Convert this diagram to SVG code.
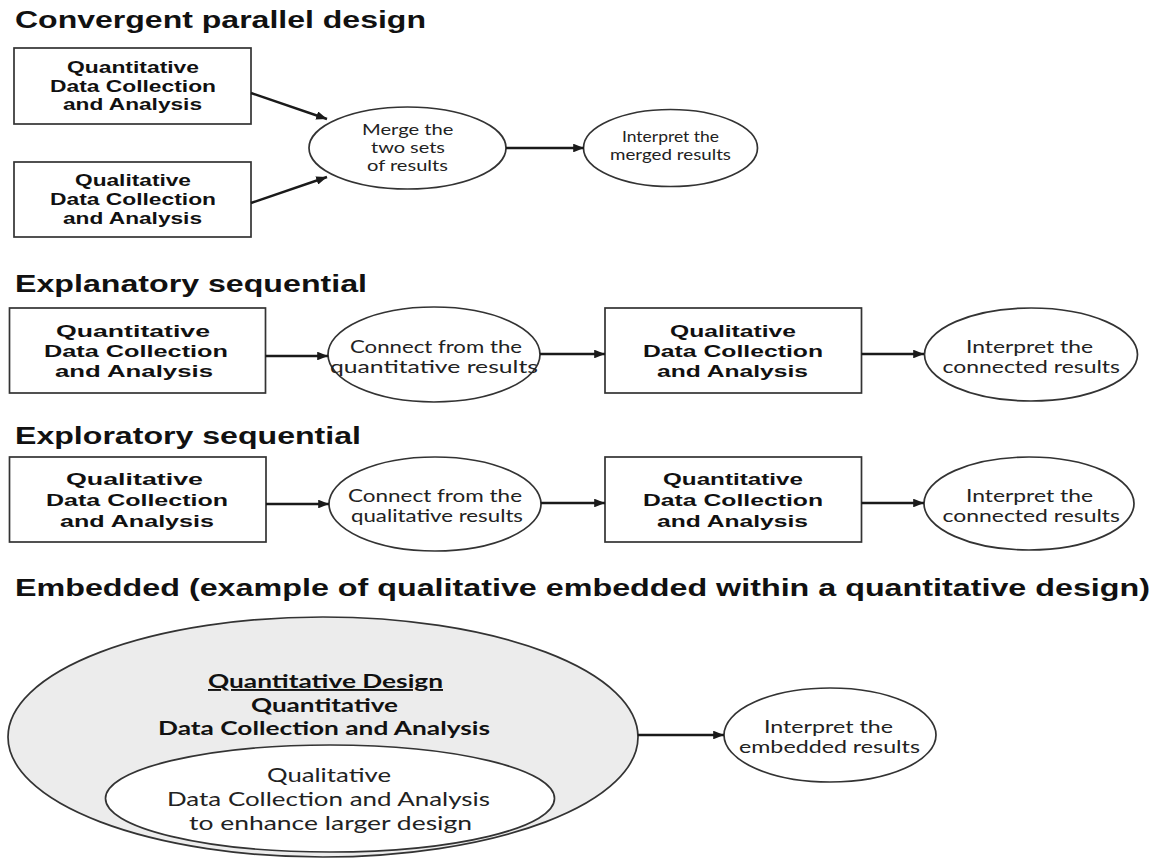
<svg xmlns="http://www.w3.org/2000/svg" width="1157" height="858" viewBox="0 0 1157 858">
<defs>
<style>
.title{font-family:"Liberation Sans",Arial,sans-serif;font-weight:bold;font-size:23px;fill:#111}
.bx{font-family:"Liberation Sans",Arial,sans-serif;font-weight:bold;font-size:16px;fill:#111}
.bx2{font-family:"Liberation Sans",Arial,sans-serif;font-weight:bold;font-size:17px;fill:#111}
.el{font-family:Lato,"Open Sans",sans-serif;font-size:15px;fill:#222}
.el2{font-family:Lato,"Open Sans",sans-serif;font-size:16.5px;fill:#222}
.eb{font-family:Lato,"Open Sans",sans-serif;font-weight:bold;font-size:19px;fill:#111}
.er{font-family:Lato,"Open Sans",sans-serif;font-size:19px;fill:#222}
.box{fill:#fff;stroke:#333;stroke-width:1.7}
.ell{fill:#fff;stroke:#333;stroke-width:1.7}
.conn line{stroke:#1a1a1a;stroke-width:2.4;marker-end:url(#ah)}
</style>
<marker id="ah" viewBox="0 0 10 8" refX="10" refY="4" markerWidth="4.5" markerHeight="3.6" orient="auto" markerUnits="strokeWidth">
<path d="M0,0 L10,4 L0,8 z" fill="#1a1a1a"/>
</marker>
</defs>
<rect width="1157" height="858" fill="#fff"/>

<g id="titles">
<text class="title" x="15" y="28" textLength="411" lengthAdjust="spacingAndGlyphs">Convergent parallel design</text>
<text class="title" x="15" y="292" textLength="352" lengthAdjust="spacingAndGlyphs">Explanatory sequential</text>
<text class="title" x="15" y="444" textLength="346" lengthAdjust="spacingAndGlyphs">Exploratory sequential</text>
<text class="title" x="15" y="596" textLength="1135" lengthAdjust="spacingAndGlyphs">Embedded (example of qualitative embedded within a quantitative design)</text>
</g>

<!-- Convergent parallel -->
<g id="cp-quant">
<rect class="box" x="14" y="48" width="237" height="76"/>
<text class="bx" x="67" y="72.5" textLength="132" lengthAdjust="spacingAndGlyphs">Quantitative</text>
<text class="bx" x="50" y="91.5" textLength="166" lengthAdjust="spacingAndGlyphs">Data Collection</text>
<text class="bx" x="63" y="110" textLength="139" lengthAdjust="spacingAndGlyphs">and Analysis</text>
</g>
<g id="cp-qual">
<rect class="box" x="14" y="162" width="237" height="75"/>
<text class="bx" x="75" y="186" textLength="116" lengthAdjust="spacingAndGlyphs">Qualitative</text>
<text class="bx" x="50" y="205" textLength="166" lengthAdjust="spacingAndGlyphs">Data Collection</text>
<text class="bx" x="63" y="224" textLength="139" lengthAdjust="spacingAndGlyphs">and Analysis</text>
</g>
<g id="cp-merge">
<ellipse class="ell" cx="407.5" cy="148" rx="98.5" ry="41"/>
<text class="el" x="362" y="134.5" textLength="91.5" lengthAdjust="spacingAndGlyphs">Merge the</text>
<text class="el" x="371" y="152.5" textLength="74" lengthAdjust="spacingAndGlyphs">two sets</text>
<text class="el" x="367" y="170.5" textLength="81" lengthAdjust="spacingAndGlyphs">of results</text>
</g>
<g id="cp-interpret">
<ellipse class="ell" cx="670.5" cy="148" rx="87" ry="38.5"/>
<text class="el" x="622" y="141.5" textLength="97" lengthAdjust="spacingAndGlyphs">Interpret the</text>
<text class="el" x="610" y="160" textLength="121" lengthAdjust="spacingAndGlyphs">merged results</text>
</g>

<!-- Explanatory sequential -->
<g id="ex-quant">
<rect class="box" x="9.5" y="308" width="256" height="85"/>
<text class="bx2" x="56" y="336.5" textLength="154" lengthAdjust="spacingAndGlyphs">Quantitative</text>
<text class="bx2" x="44" y="357.3" textLength="184" lengthAdjust="spacingAndGlyphs">Data Collection</text>
<text class="bx2" x="55" y="377.3" textLength="158" lengthAdjust="spacingAndGlyphs">and Analysis</text>
</g>
<g id="ex-connect">
<ellipse class="ell" cx="434" cy="354.5" rx="106" ry="47.5"/>
<text class="el2" x="350" y="352.7" textLength="172" lengthAdjust="spacingAndGlyphs">Connect from the</text>
<text class="el2" x="330" y="372.7" textLength="208" lengthAdjust="spacingAndGlyphs">quantitative results</text>
</g>
<g id="ex-qual">
<rect class="box" x="605" y="308" width="256.5" height="85"/>
<text class="bx2" x="670" y="337" textLength="126" lengthAdjust="spacingAndGlyphs">Qualitative</text>
<text class="bx2" x="643" y="357.3" textLength="180" lengthAdjust="spacingAndGlyphs">Data Collection</text>
<text class="bx2" x="657" y="377.3" textLength="151" lengthAdjust="spacingAndGlyphs">and Analysis</text>
</g>
<g id="ex-interpret">
<ellipse class="ell" cx="1031" cy="354.5" rx="106.5" ry="46.5"/>
<text class="el2" x="966" y="352.7" textLength="127" lengthAdjust="spacingAndGlyphs">Interpret the</text>
<text class="el2" x="942.5" y="372.7" textLength="177.5" lengthAdjust="spacingAndGlyphs">connected results</text>
</g>

<!-- Exploratory sequential -->
<g id="xp-qual">
<rect class="box" x="9.5" y="457" width="256.5" height="85"/>
<text class="bx2" x="66" y="485" textLength="137" lengthAdjust="spacingAndGlyphs">Qualitative</text>
<text class="bx2" x="46" y="505.7" textLength="182" lengthAdjust="spacingAndGlyphs">Data Collection</text>
<text class="bx2" x="60" y="527.3" textLength="154" lengthAdjust="spacingAndGlyphs">and Analysis</text>
</g>
<g id="xp-connect">
<ellipse class="ell" cx="435" cy="504" rx="106" ry="47"/>
<text class="el2" x="348" y="501.7" textLength="174" lengthAdjust="spacingAndGlyphs">Connect from the</text>
<text class="el2" x="351" y="521.7" textLength="172" lengthAdjust="spacingAndGlyphs">qualitative results</text>
</g>
<g id="xp-quant">
<rect class="box" x="605" y="457" width="256.5" height="85"/>
<text class="bx2" x="663" y="485" textLength="140" lengthAdjust="spacingAndGlyphs">Quantitative</text>
<text class="bx2" x="643" y="505.7" textLength="180" lengthAdjust="spacingAndGlyphs">Data Collection</text>
<text class="bx2" x="657" y="527.3" textLength="151" lengthAdjust="spacingAndGlyphs">and Analysis</text>
</g>
<g id="xp-interpret">
<ellipse class="ell" cx="1029" cy="503.5" rx="105" ry="46.5"/>
<text class="el2" x="966" y="501.7" textLength="127" lengthAdjust="spacingAndGlyphs">Interpret the</text>
<text class="el2" x="942.5" y="521.7" textLength="177.5" lengthAdjust="spacingAndGlyphs">connected results</text>
</g>

<!-- Embedded -->
<g id="em-quant-design">
<ellipse cx="323" cy="737" rx="315" ry="120" fill="#ececec" stroke="#333" stroke-width="1.7"/>
<text class="eb" x="208" y="688" textLength="235" lengthAdjust="spacingAndGlyphs" text-decoration="underline">Quantitative Design</text>
<text class="eb" x="251" y="712" textLength="147" lengthAdjust="spacingAndGlyphs">Quantitative</text>
<text class="eb" x="158" y="735" textLength="332" lengthAdjust="spacingAndGlyphs">Data Collection and Analysis</text>
</g>
<g id="em-qual">
<ellipse cx="330" cy="798.5" rx="224.5" ry="53.5" fill="#fff" stroke="#333" stroke-width="1.7"/>
<text class="er" x="267" y="782" textLength="124" lengthAdjust="spacingAndGlyphs">Qualitative</text>
<text class="er" x="167" y="806" textLength="323" lengthAdjust="spacingAndGlyphs">Data Collection and Analysis</text>
<text class="er" x="189" y="830" textLength="283" lengthAdjust="spacingAndGlyphs">to enhance larger design</text>
</g>
<g id="em-interpret">
<ellipse class="ell" cx="830" cy="735" rx="106" ry="47"/>
<text class="el2" x="764" y="733" textLength="129" lengthAdjust="spacingAndGlyphs">Interpret the</text>
<text class="el2" x="739" y="753" textLength="181" lengthAdjust="spacingAndGlyphs">embedded results</text>
</g>

<g id="connectors" class="conn">
<line x1="251" y1="93" x2="327" y2="119"/>
<line x1="251" y1="203" x2="327" y2="177"/>
<line x1="506" y1="148" x2="584" y2="148"/>
<line x1="265.5" y1="356" x2="328" y2="356"/>
<line x1="540" y1="354" x2="605" y2="354"/>
<line x1="861.5" y1="354" x2="924" y2="354"/>
<line x1="266" y1="504" x2="329" y2="504"/>
<line x1="541" y1="503" x2="605" y2="503"/>
<line x1="861.5" y1="503" x2="924" y2="503"/>
<line x1="638" y1="735" x2="724" y2="735"/>
</g>
</svg>
